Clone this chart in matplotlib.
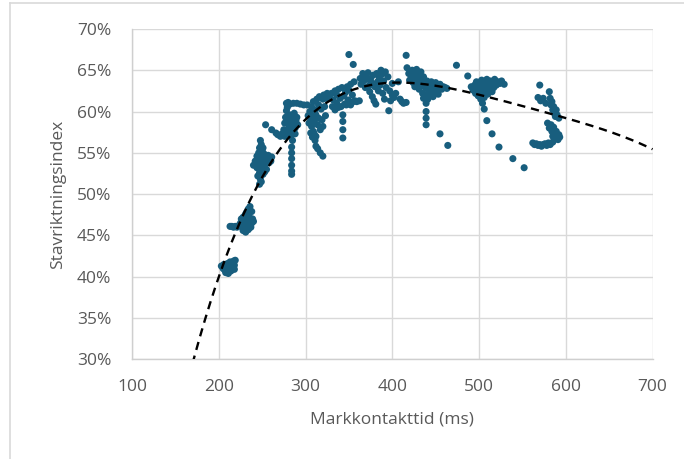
import numpy as np
import matplotlib
matplotlib.use("Agg")
import matplotlib.pyplot as plt
from matplotlib.lines import Line2D
from matplotlib.ticker import FuncFormatter

# ground contact time (ms) vs. index
grp_a = [(203, 41.3), (205, 41.0), (206, 41.5), (207, 40.8), (208, 41.2), (209, 40.6), (210, 41.0),
         (210, 41.6), (211, 40.4), (212, 40.9), (213, 41.3), (214, 40.7), (215, 41.1), (216, 41.6),
         (217, 41.9), (218, 41.4), (219, 42.0), (218, 40.9), (213, 41.8), (208, 40.5)]
grp_b = [(213, 46.1), (215, 46.1), (217, 46.0), (219, 46.1), (221, 46.0), (223, 46.2), (225, 46.5),
         (226, 47.0), (227, 46.0), (228, 45.6), (229, 46.6), (230, 47.4), (230, 46.1), (231, 45.4),
         (232, 47.8), (232, 46.8), (233, 46.3), (234, 48.2), (234, 45.7), (235, 47.3), (236, 48.5),
         (236, 46.7), (237, 46.0), (238, 47.9), (238, 46.5), (239, 47.0), (240, 46.7), (228, 47.2),
         (231, 47.6), (235, 45.9)]
grp_c = [(248, 56.5), (249, 56.0), (247, 55.6), (250, 55.3), (246, 55.0), (252, 54.9), (244, 54.6),
         (248, 54.4), (254, 54.5), (256, 54.2), (242, 54.0), (250, 53.9), (246, 53.6), (253, 53.5),
         (258, 53.8), (240, 53.5), (244, 53.2), (249, 53.0), (255, 53.0), (247, 52.6), (251, 52.4),
         (245, 52.2), (253, 52.7), (248, 51.8), (247, 51.2), (249, 51.5), (251, 55.6), (245, 53.9),
         (257, 54.7), (260, 54.0), (261, 54.5)]
grp_d = [(254, 58.4), (261, 57.8), (266, 57.4), (268, 57.2), (271, 57.0), (273, 57.3), (275, 57.8),
         (276, 58.6), (277, 59.3), (278, 60.1), (278, 61.0), (279, 60.5), (280, 59.0), (281, 58.2),
         (282, 59.6), (283, 58.8), (284, 57.6), (285, 59.2), (286, 58.5), (287, 59.8), (288, 58.0),
         (289, 58.9), (290, 59.3), (291, 58.4), (283, 57.0), (285, 56.5), (284, 55.7), (284, 55.0),
         (284, 54.3), (284, 53.5), (284, 52.8), (284, 52.4), (282, 60.9), (286, 61.0), (290, 61.0),
         (294, 60.9), (298, 60.8), (302, 60.8), (280, 61.1), (288, 57.3), (276, 57.0), (279, 57.5)]
grp_e = [(303, 59.5), (304, 58.6), (305, 60.0), (306, 59.0), (307, 58.2), (307, 60.6), (308, 59.4),
         (309, 57.6), (309, 61.2), (310, 58.8), (311, 60.2), (312, 59.6), (312, 57.0), (313, 61.5),
         (314, 58.4), (315, 60.8), (315, 59.2), (316, 61.8), (317, 57.8), (318, 60.3), (319, 59.0),
         (320, 61.5), (320, 58.2), (321, 62.0), (322, 60.6), (323, 59.5), (324, 61.6), (325, 62.2),
         (311, 56.5), (312, 55.8), (314, 55.5), (317, 55.0), (320, 54.6), (306, 57.4), (308, 56.9),
         (310, 57.3)]
grp_f = [(326, 62.0), (328, 61.6), (330, 62.2), (332, 61.4), (334, 62.5), (336, 61.0), (336, 62.0),
         (338, 62.7), (340, 61.6), (341, 60.6), (342, 62.9), (344, 61.9), (345, 60.9), (346, 62.3),
         (348, 63.0), (349, 61.4), (350, 62.6), (351, 61.0), (352, 63.3), (354, 62.0), (355, 61.2),
         (357, 61.3), (359, 61.2), (362, 61.3), (338, 60.5), (343, 59.6), (343, 58.8), (343, 57.8),
         (343, 56.8), (347, 60.8), (352, 60.8), (356, 63.6), (331, 60.6), (334, 60.2)]
grp_g = [(363, 64.0), (364, 63.3), (366, 64.6), (367, 63.7), (368, 64.3), (369, 62.9), (371, 63.9),
         (372, 64.7), (373, 63.1), (374, 62.4), (375, 64.0), (376, 63.5), (377, 61.8), (378, 64.4),
         (380, 63.0), (381, 60.9), (382, 64.6), (383, 63.6), (384, 62.5), (385, 64.1), (386, 63.2),
         (388, 64.5), (389, 62.2), (390, 63.7), (391, 61.5), (392, 64.8), (393, 62.9), (395, 64.2),
         (396, 60.1), (397, 62.5), (398, 61.3), (400, 62.0), (400, 63.4), (402, 61.7), (404, 62.2),
         (407, 63.6), (409, 61.5), (411, 61.2), (413, 61.0), (416, 61.1), (387, 65.0), (379, 61.3)]
grp_i = [(417, 65.3), (419, 64.6), (420, 63.8), (422, 64.2), (423, 65.0), (424, 63.5), (425, 64.6),
         (426, 63.0), (427, 64.0), (428, 65.1), (429, 63.4), (430, 64.5), (431, 62.7), (432, 63.8),
         (433, 64.8), (434, 63.1), (435, 62.2), (436, 64.2), (437, 63.5), (438, 61.9), (439, 62.8),
         (440, 63.7), (441, 61.5), (442, 62.4), (443, 63.2), (444, 62.0), (445, 63.6), (446, 62.6),
         (447, 61.8), (448, 63.1), (449, 62.3), (450, 63.5), (452, 62.8), (453, 62.1), (455, 63.3),
         (457, 62.7), (459, 63.0), (461, 62.9), (463, 62.8), (439, 61.0), (439, 60.0), (439, 59.2),
         (439, 58.4), (455, 57.3), (464, 55.9), (436, 61.6)]
grp_j = [(491, 63.0), (493, 62.6), (495, 63.2), (496, 62.2), (497, 63.6), (498, 62.8), (499, 61.9),
         (500, 63.3), (501, 62.5), (502, 61.5), (503, 63.8), (504, 62.9), (505, 62.2), (506, 61.7),
         (507, 63.4), (508, 62.7), (509, 63.9), (510, 62.1), (511, 63.2), (512, 62.6), (513, 63.7),
         (514, 63.0), (515, 62.4), (516, 63.5), (517, 62.9), (518, 63.9), (520, 63.2), (522, 63.6),
         (524, 63.4), (526, 63.7), (529, 63.3), (506, 60.3), (509, 58.9), (515, 57.3), (523, 55.7),
         (539, 54.3), (552, 53.2), (504, 61.0)]
grp_k = [(570, 63.2), (581, 62.4), (568, 61.7), (571, 61.3), (574, 61.6), (577, 61.0), (582, 61.6),
         (583, 60.8), (584, 61.2), (585, 60.2), (586, 60.6), (587, 59.8), (588, 59.4), (589, 60.2),
         (590, 59.6), (592, 59.2), (579, 58.6), (581, 58.0), (583, 58.4), (584, 57.6), (585, 57.0),
         (586, 58.1), (587, 57.4), (588, 56.8), (589, 57.6), (590, 57.1), (591, 56.6), (592, 57.2),
         (593, 56.9), (562, 56.2), (564, 56.0), (566, 56.1), (568, 55.9), (570, 56.0), (572, 55.8),
         (574, 56.0), (576, 56.1), (578, 55.9), (580, 56.2), (582, 56.0), (585, 56.3)]
outliers = [(350, 66.9), (355, 65.7), (416, 66.8), (474, 65.6), (487, 64.3)]

# trendline polynomial (order 4), in t = (ms - 400) / 100, result in percent
trend_coef = [-0.17287, 1.10477, -2.78374, 0.38948, 63.49481]

groups = [grp_a, grp_b, grp_c, grp_d, grp_e, grp_f, grp_g, grp_i, grp_j, grp_k, outliers]
pts = np.array([p for g in groups for p in g], dtype=float)
gct = pts[:, 0]
index = pts[:, 1] / 100.0

x_ticks = [100, 200, 300, 400, 500, 600, 700]
y_ticks = [0.30, 0.35, 0.40, 0.45, 0.50, 0.55, 0.60, 0.65, 0.70]

txt = "#595959"
grid = "#d9d9d9"
dot = "#185e7e"

plt.rcParams["font.family"] = ["Open Sans", "DejaVu Sans"]

fig = plt.figure(figsize=(6.84, 4.59), dpi=100)
ax = fig.add_axes([0.193, 0.217, 0.761, 0.72])

ax.scatter(gct, index, s=26, color=dot, edgecolors="none", zorder=3)

xs = np.linspace(100, 700, 400)
ax.plot(xs, np.polyval(trend_coef, (xs - 400) / 100) / 100, color="black", lw=1.7,
        ls=(0, (3.5, 2.5)), zorder=4)

ax.set_xlim(100, 700)
ax.set_ylim(0.30, 0.70)
ax.set_xticks(x_ticks)
ax.set_yticks(y_ticks)
ax.yaxis.set_major_formatter(FuncFormatter(lambda v, p: f"{v * 100:.0f}%"))
ax.grid(True, color=grid, lw=1.0, zorder=0)
ax.set_axisbelow(True)
for s in ["top", "right"]:
    ax.spines[s].set_visible(False)
for s in ["left", "bottom"]:
    ax.spines[s].set_color("#cfcfcf")
    ax.spines[s].set_linewidth(1.0)
ax.tick_params(length=0, labelsize=12.5, labelcolor=txt)
ax.tick_params(axis="y", pad=15)
ax.tick_params(axis="x", pad=14)

ax.set_xlabel("Markkontakttid (ms)", fontsize=12.5, color=txt, labelpad=12)
ax.set_ylabel("Stavriktningsindex", fontsize=12.5, color=txt, labelpad=8)

# outer chart border (left and top edges visible in the crop)
fig.add_artist(Line2D([10 / 684, 10 / 684], [0, 1 - 3 / 459], color="#d9d9d9", lw=1.2,
                      transform=fig.transFigure))
fig.add_artist(Line2D([10 / 684, 1], [1 - 3 / 459, 1 - 3 / 459], color="#d9d9d9", lw=1.2,
                      transform=fig.transFigure))

fig.savefig("out.png", dpi=100)
